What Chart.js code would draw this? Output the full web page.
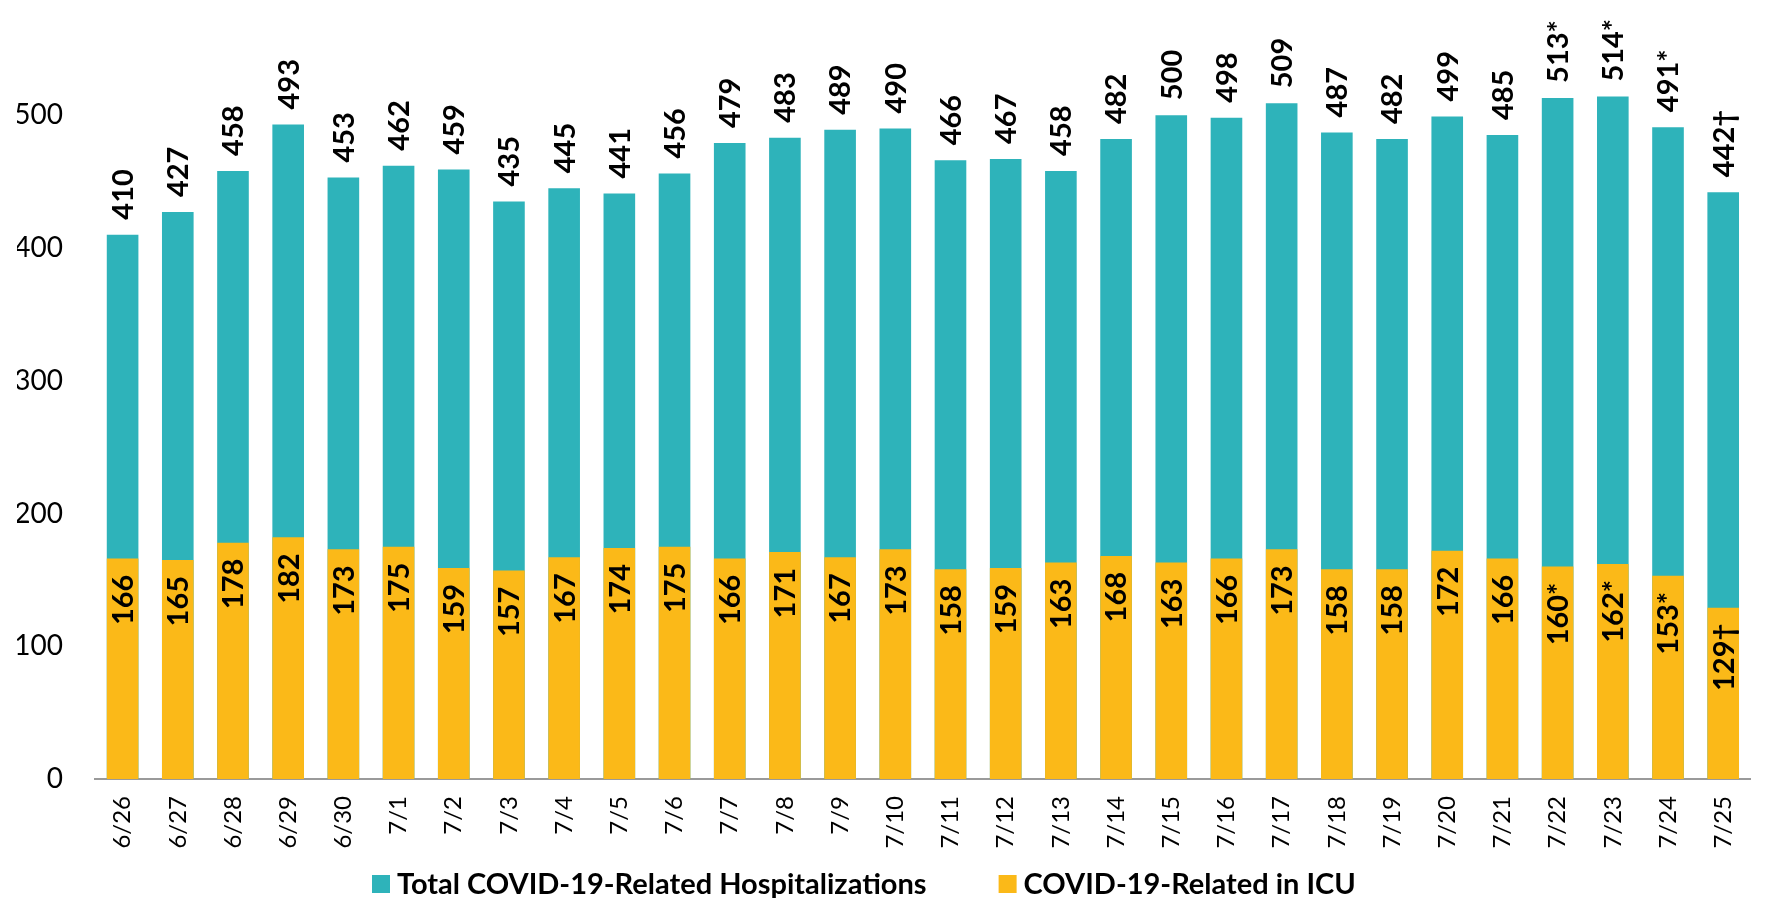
<!DOCTYPE html>
<html>
<head>
<meta charset="utf-8">
<script src="https://cdn.jsdelivr.net/npm/chart.js@4.4.1/dist/chart.umd.min.js"></script>
<style>
  html, body { margin: 0; padding: 0; background: #ffffff; }
  #wrap { width: 1769px; height: 898px; position: relative; }
</style>
</head>
<body>
<div id="wrap"><canvas id="c" width="1769" height="898"></canvas></div>
<script>
const categories = ["6/26","6/27","6/28","6/29","6/30","7/1","7/2","7/3","7/4","7/5","7/6","7/7","7/8","7/9","7/10","7/11","7/12","7/13","7/14","7/15","7/16","7/17","7/18","7/19","7/20","7/21","7/22","7/23","7/24","7/25"];
const totalHosp = [410,427,458,493,453,462,459,435,445,441,456,479,483,489,490,466,467,458,482,500,498,509,487,482,499,485,513,514,491,442];
const icuHosp = [166,165,178,182,173,175,159,157,167,174,175,166,171,167,173,158,159,163,168,163,166,173,158,158,172,166,160,162,153,129];
const labelSuffix = ["","","","","","","","","","","","","","","","","","","","","","","","","","","*","*","*","†"];
const yTicks = [0,100,200,300,400,500];
const seriesNames = ["Total COVID-19-Related Hospitalizations", "COVID-19-Related in ICU"];
const seriesColors = ["#2EB3BA", "#FBB918"];

const FONT = "Lato, 'Open Sans', 'Liberation Sans', sans-serif";
const TARGET = { left: 95, right: 1769, top: 35, bottom: 779 };

const barLabels = {
  id: 'barLabels',
  afterDatasetsDraw(chart) {
    const ctx = chart.ctx;
    ctx.save();
    ctx.fillStyle = '#000000';
    ctx.font = "bold 29px " + FONT;
    ctx.textBaseline = 'middle';
    chart.data.datasets.forEach((ds, di) => {
      const meta = chart.getDatasetMeta(di);
      meta.data.forEach((el, i) => {
        const txt = String(ds.data[i]) + labelSuffix[i];
        ctx.save();
        if (di === 0) {
          ctx.translate(el.x + 1, el.y - 15);
          ctx.rotate(-Math.PI / 2);
          ctx.textAlign = 'left';
        } else {
          ctx.translate(el.x + 1, el.y + 16);
          ctx.rotate(-Math.PI / 2);
          ctx.textAlign = 'right';
        }
        ctx.fillText(txt, 0, 0);
        ctx.restore();
      });
    });
    ctx.restore();
  }
};

const customLegend = {
  id: 'customLegend',
  afterDraw(chart) {
    const ctx = chart.ctx;
    ctx.save();
    ctx.font = "bold 29px " + FONT;
    ctx.textBaseline = 'middle';
    ctx.textAlign = 'left';
    const box = 18, gapText = 7, gapItem = 72;
    let x = 372;
    const yMid = 884;
    seriesNames.forEach((name, i) => {
      ctx.fillStyle = seriesColors[i];
      ctx.fillRect(x, yMid - box / 2, box, box);
      ctx.fillStyle = '#000000';
      ctx.fillText(name, x + box + gapText, yMid + 1);
      x += box + gapText + ctx.measureText(name).width + gapItem;
    });
    ctx.restore();
  }
};

const chart = new Chart(document.getElementById('c'), {
  type: 'bar',
  data: {
    labels: categories,
    datasets: [
      { label: seriesNames[0], data: totalHosp, backgroundColor: seriesColors[0], grouped: false, order: 1,
        barPercentage: 0.573, categoryPercentage: 1.0 },
      { label: seriesNames[1], data: icuHosp, backgroundColor: seriesColors[1], grouped: false, order: 0,
        barPercentage: 0.573, categoryPercentage: 1.0 }
    ]
  },
  options: {
    responsive: false,
    animation: false,
    devicePixelRatio: 1,
    layout: { padding: { top: 35, left: 17, right: 0, bottom: 0 } },
    plugins: {
      tooltip: { enabled: false },
      legend: { display: false }
    },
    scales: {
      x: {
        grid: { display: false, drawTicks: false },
        border: { display: true, color: '#9A9A9A', width: 2 },
        afterFit(axis) { axis.height = 119; },
        ticks: {
          color: '#000000',
          font: { family: FONT, size: 24 },
          maxRotation: 90,
          minRotation: 90,
          padding: 17,
          autoSkip: false
        }
      },
      y: {
        min: 0,
        max: 550,
        grid: { display: false, drawTicks: false },
        border: { display: false },
        afterBuildTicks(axis) { axis.ticks = yTicks.map(v => ({ value: v })); },
        afterFit(axis) { axis.width = 78; },
        ticks: {
          color: '#000000',
          font: { family: FONT, size: 28 },
          padding: 32
        }
      }
    }
  },
  plugins: [barLabels, customLegend]
});

for (let k = 0; k < 3; k++) {
  const ca = chart.chartArea;
  const p = chart.options.layout.padding;
  chart.options.layout.padding = {
    top: p.top + (TARGET.top - ca.top),
    left: p.left + (TARGET.left - ca.left),
    right: p.right + (ca.right - TARGET.right),
    bottom: p.bottom + (ca.bottom - TARGET.bottom)
  };
  chart.update();
}
</script>
</body>
</html>
